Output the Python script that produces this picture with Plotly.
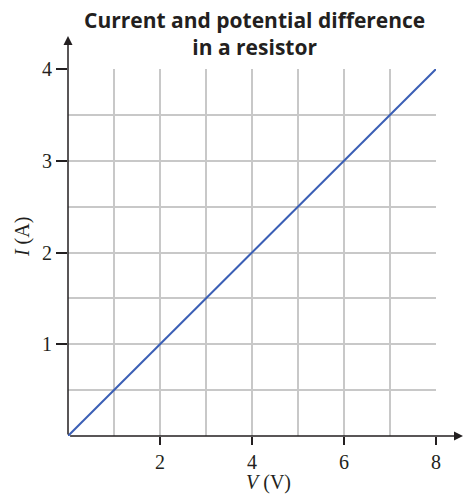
import plotly.graph_objects as go

# dados: tensão (V) e corrente (A) no resistor
tensao = [0, 1, 2, 3, 4, 5, 6, 7, 8]
corrente = [0, 0.5, 1, 1.5, 2, 2.5, 3, 3.5, 4]

ticks_x = [2, 4, 6, 8]
grade_x = [1, 3, 5, 7]
ticks_y = [1, 2, 3, 4]
grade_y = [0.5, 1.5, 2.5, 3.5]

serif = "Liberation Serif"
cor_grade = "#c8c8c8"
cor_eixo = "#231f20"

fig = go.Figure()
fig.add_trace(go.Scatter(x=tensao, y=corrente, mode="lines",
                         line=dict(color="#3b5fb5", width=2),
                         hoverinfo="skip", showlegend=False))

fig.update_layout(
    width=464, height=494,
    margin=dict(l=68, r=28, t=69, b=58),
    paper_bgcolor="white", plot_bgcolor="white",
)

fig.update_xaxes(range=[0, 8], tickvals=ticks_x, ticks="outside", ticklen=8,
                 tickwidth=1.5, tickcolor=cor_eixo,
                 showgrid=True, gridcolor=cor_grade, gridwidth=1.5,
                 minor=dict(tickvals=grade_x, showgrid=True, gridcolor=cor_grade,
                            gridwidth=1.5, ticks=""),
                 zeroline=False, showline=False,
                 tickfont=dict(family=serif, size=20, color=cor_eixo))
fig.update_yaxes(range=[0, 4], tickvals=ticks_y, ticks="outside", ticklen=11,
                 tickwidth=1.5, tickcolor=cor_eixo,
                 showgrid=True, gridcolor=cor_grade, gridwidth=1.5,
                 minor=dict(tickvals=grade_y, showgrid=True, gridcolor=cor_grade,
                            gridwidth=1.5, ticks=""),
                 zeroline=False, showline=False,
                 tickfont=dict(family=serif, size=20, color=cor_eixo))

# título em duas linhas
fig.add_annotation(x=0.508, y=1.177, xref="paper", yref="paper",
                   text="<b>Current and potential difference<br>in a resistor</b>",
                   showarrow=False, yanchor="top", align="center",
                   font=dict(family="Open Sans", size=21, color="#231f20"))

# eixos com setas
fig.add_annotation(x=1.075, y=0, xref="paper", yref="paper", ax=-395, ay=0,
                   showarrow=True, arrowhead=2, arrowsize=1.2, arrowwidth=1.5,
                   arrowcolor=cor_eixo, text="")
fig.add_annotation(x=0, y=1.09, xref="paper", yref="paper", ax=0, ay=400,
                   showarrow=True, arrowhead=2, arrowsize=1.2, arrowwidth=1.5,
                   arrowcolor=cor_eixo, text="")

# títulos dos eixos
fig.add_annotation(x=0.546, y=-0.128, xref="paper", yref="paper",
                   text="<i>V</i> (V)", showarrow=False,
                   xanchor="center", yanchor="middle",
                   font=dict(family=serif, size=20, color=cor_eixo))
fig.add_annotation(x=-0.125, y=0.542, xref="paper", yref="paper",
                   text="<i>I</i> (A)", showarrow=False, textangle=-90,
                   xanchor="center", yanchor="middle",
                   font=dict(family=serif, size=20, color=cor_eixo))

fig.write_html("out.html", config={"displayModeBar": False},
               post_script="document.body.style.margin='0';")
